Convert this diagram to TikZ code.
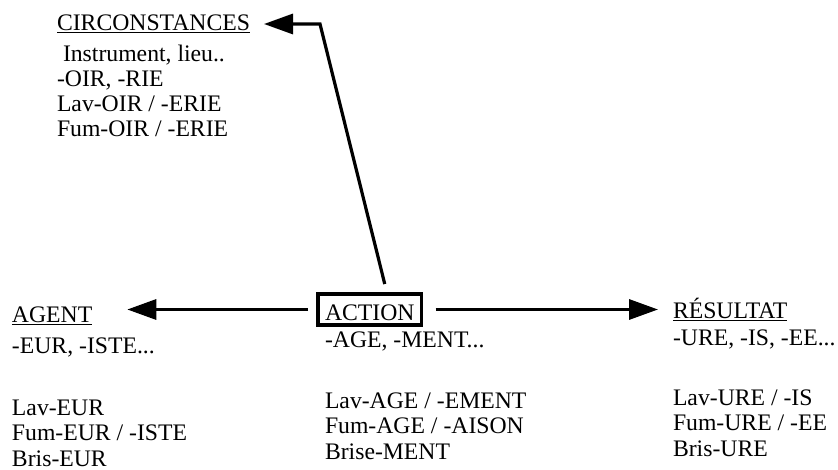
\documentclass[tikz,border=0pt]{standalone}
\usepackage{fontspec}
\setmainfont{Liberation Serif}
\usetikzlibrary{arrows.meta}

\newcommand{\blocktext}{\fontsize{23.7}{25.3}\selectfont}

\tikzset{
  label text/.style={anchor=base west, inner sep=0pt, outer sep=0pt, align=left, font=\blocktext},
  pointer/.style={line width=3.2pt, -{Triangle[length=29pt,width=20pt]}},
}

\begin{document}
\begin{tikzpicture}[x=1pt, y=-1pt]
    \useasboundingbox (0,0) rectangle (838,470);

    % Circonstances (base = derniere ligne)
    \node[label text] (circ) at (57,31) {\underline{CIRCONSTANCES}};
    \node[label text] (circex) at (57,137) {\hspace*{6pt}Instrument, lieu..\\-OIR, -RIE\\Lav-OIR / -ERIE\\Fum-OIR / -ERIE};

    % Agent
    \node[label text] (agent) at (12,323) {\underline{AGENT}};
    \node[label text] (agentsuf) at (12,353) {-EUR, -ISTE...};
    \node[label text] (agentex) at (12,466) {Lav-EUR\\Fum-EUR / -ISTE\\Bris-EUR};

    % Action (encadree)
    \node[label text, draw, line width=3.2pt, inner xsep=7pt, inner ysep=0pt,
          text height=26pt, text depth=5pt] (action) at (318,320) {ACTION};
    \node[label text] (actionsuf) at (325,347) {-AGE, -MENT...};
    \node[label text] (actionex) at (325,459) {Lav-AGE / -EMENT\\Fum-AGE / -AISON\\Brise-MENT};

    % Resultat
    \node[label text] (resultat) at (673,319) {\underline{RÉSULTAT}};
    \node[label text] (resultatsuf) at (673,345) {-URE, -IS, -EE...};
    \node[label text] (resultatex) at (673,456) {Lav-URE / -IS\\Fum-URE / -EE\\Bris-URE};

    % Fleches
    \draw[pointer, shorten <=10pt, shorten >=35pt] (action.west) -- (agent.east |- action.west);
    \draw[pointer, shorten <=14pt, shorten >=15pt] (action.east) -- (resultat.west |- action.east);
    \coordinate (bend) at (320,24);
    \draw[pointer, shorten >=14pt] ([xshift=15pt, yshift=10pt]action.north) -- (bend) -- (bend -| circ.east);
\end{tikzpicture}
\end{document}
